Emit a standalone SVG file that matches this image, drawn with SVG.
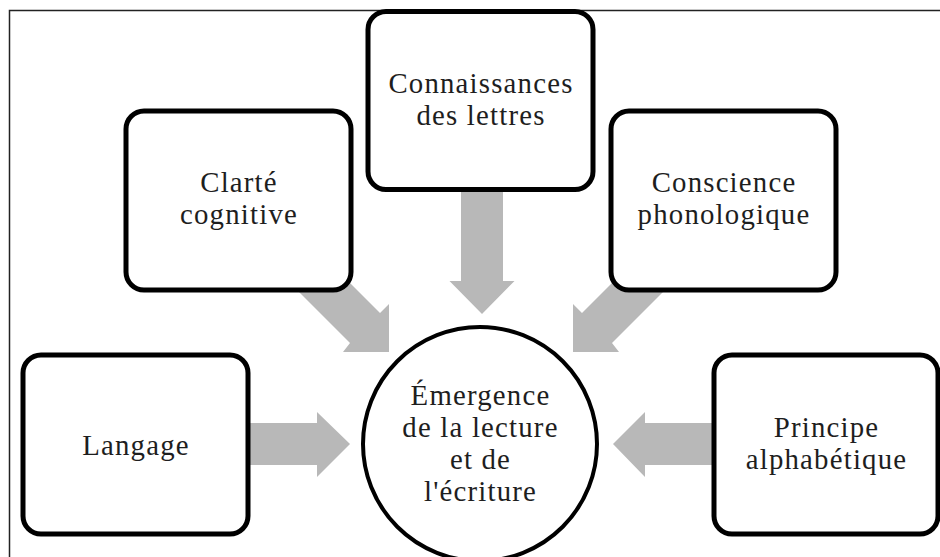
<svg xmlns="http://www.w3.org/2000/svg" width="940" height="557" viewBox="0 0 940 557">
<style>
.box{fill:#fff;stroke:#000;stroke-width:5}
.arrow{fill:#b8b8b8;stroke:none}
.lbl{font-family:"Liberation Serif","Times New Roman",serif;font-size:28.8px;letter-spacing:1.2px;fill:#1e1e1e;text-anchor:middle}
</style>
<rect x="0" y="0" width="940" height="557" fill="#fff"/>
<rect x="9.5" y="10.5" width="940" height="560" fill="none" stroke="#222" stroke-width="1.5"/>
<g id="connectors">
<polygon class="arrow" points="461,180 503,180 503,281 514.5,281 482,314 449.5,281 461,281"/>
<polygon class="arrow" points="287,280 347,280 380,313 389,304 389,352 343,352 350,343"/>
<polygon class="arrow" points="675,280 615,280 582,313 573,304 573,352 619,352 612,343"/>
<polygon class="arrow" points="240,423 317,423 317,412 350,444 317,477 317,465 240,465"/>
<polygon class="arrow" points="722,423 645,423 645,412 613,444 645,477 645,465 722,465"/>
</g>
<g id="node-connaissances">
<rect class="box" x="368" y="11.5" width="225" height="178" rx="18"/>
<text class="lbl" x="481" y="93">Connaissances</text>
<text class="lbl" x="481" y="125">des lettres</text>
</g>
<g id="node-clarte">
<rect class="box" x="126" y="111" width="225" height="179" rx="18"/>
<text class="lbl" x="239" y="192">Clarté</text>
<text class="lbl" x="239" y="224">cognitive</text>
</g>
<g id="node-conscience">
<rect class="box" x="611" y="111" width="225" height="179" rx="18"/>
<text class="lbl" x="724" y="192">Conscience</text>
<text class="lbl" x="724" y="224">phonologique</text>
</g>
<g id="node-langage">
<rect class="box" x="23" y="355" width="225" height="179" rx="18"/>
<text class="lbl" x="136" y="455">Langage</text>
</g>
<g id="node-principe">
<rect class="box" x="714" y="355" width="224" height="179" rx="18"/>
<text class="lbl" x="826.5" y="437">Principe</text>
<text class="lbl" x="826.5" y="469">alphabétique</text>
</g>
<g id="node-emergence">
<circle cx="480" cy="444" r="117" fill="#fff" stroke="#000" stroke-width="4"/>
<text class="lbl" x="480.5" y="405">Émergence</text>
<text class="lbl" x="480.5" y="437">de la lecture</text>
<text class="lbl" x="480.5" y="469">et de</text>
<text class="lbl" x="480.5" y="501">l'écriture</text>
</g>
</svg>
